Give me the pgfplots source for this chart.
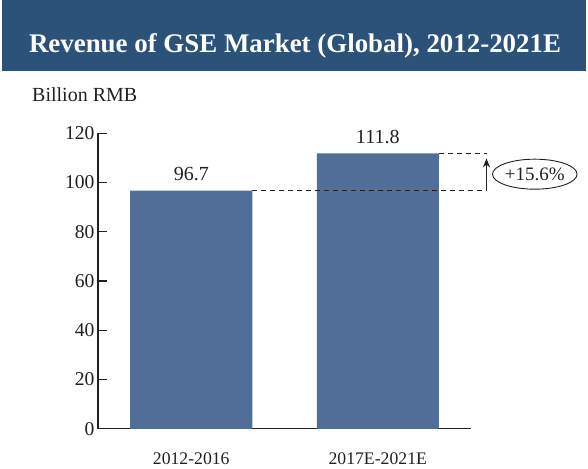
\documentclass[border=0pt]{standalone}
\usepackage{fontspec}
\setmainfont{Liberation Serif}
\usepackage{pgfplots}
\pgfplotsset{compat=1.18}
\usetikzlibrary{shapes.geometric,arrows.meta}
\definecolor{banner}{HTML}{2D5279}
\definecolor{barblue}{HTML}{506E97}
\definecolor{ink}{HTML}{231F20}
\newcommand{\fs}[1]{\fontsize{#1}{#1}\selectfont}
\begin{document}
\begin{tikzpicture}
\begin{axis}[
    at={(0pt,0pt)}, anchor=south west,
    scale only axis,
    width=373pt, height=295.5pt,
    xmin=-0.5, xmax=1.5,
    ymin=0, ymax=120,
    ytick={0,20,...,120},
    xtick=data,
    xticklabels={2012-2016,2017E-2021E},
    axis x line*=bottom, axis y line*=left,
    axis line style={ink, line width=1.3pt, -},
    major tick length=9pt,
    y tick style={ink, line width=1.2pt},
    x tick style={draw=none},
    tick align=inside,
    /pgf/number format/assume math mode=true,
    yticklabel style={font=\fs{19.6}, text=ink},
    xticklabel style={font=\fs{17.7}, text=ink, anchor=base, yshift=-27pt},
    ybar, bar width=122pt,
    nodes near coords,
    nodes near coords style={font=\fs{20}, text=ink, anchor=base, yshift=10pt,
        /pgf/number format/.cd, fixed, precision=1, fixed zerofill},
    clip=false,
]
\addplot[fill=barblue, draw=none] coordinates {(0,96.7) (1,111.8)};
\draw[ink, line width=1.1pt, dash pattern=on 5pt off 4pt] (axis cs:0.326,96.7) -- (axis cs:1.588,96.7);
\draw[ink, line width=1.1pt, dash pattern=on 5pt off 4pt] (axis cs:1.326,111.8) -- (axis cs:1.588,111.8);
\draw[ink, line width=1.5pt, -{Stealth[length=9pt,width=7pt]}] (axis cs:1.583,96.7) -- (axis cs:1.583,109.8);
\node[ellipse, draw=ink, line width=0.9pt, minimum width=69pt, minimum height=30pt, inner sep=0pt,
      font=\fs{19}, text=ink] at (axis cs:1.842,103.4) {+15.6\%};
\end{axis}
\path[use as bounding box] (-98pt,-32.2pt) rectangle (490pt,428.8pt);
\fill[banner] (-96pt,357.8pt) rectangle (488pt,428.8pt);
\node[text=white, font=\bfseries\fs{26.9}, anchor=base] at (197pt,376pt) {Revenue of GSE Market (Global), 2012-2021E};
\node[text=ink, font=\fs{20}, anchor=base west, inner sep=0pt] at (-66pt,327pt) {Billion RMB};
\end{tikzpicture}
\end{document}
